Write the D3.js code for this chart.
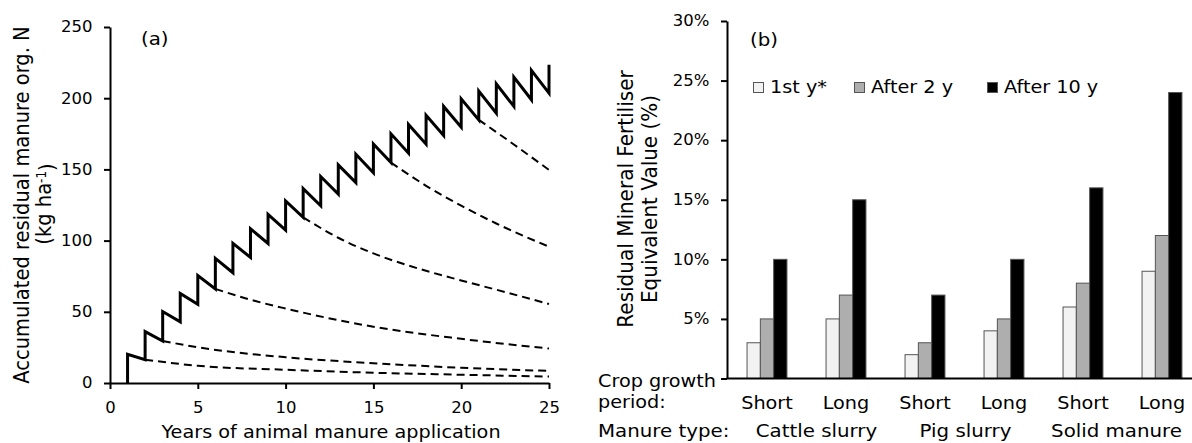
<!DOCTYPE html>
<html>
<head>
<meta charset="utf-8">
<script src="https://cdn.jsdelivr.net/npm/d3@7"></script>
<style>
  body { margin: 0; background: #fff; }
  svg { display: block; font-family: 'DejaVu Sans', Verdana, sans-serif; }
  .axis path, .axis line { stroke: #000; stroke-width: 2; }
</style>
</head>
<body>
<div id="chart"></div>
<script>
// Panel (a): accumulated residual manure N
var years = d3.range(1, 26);
var peaks = [20.2, 36.1, 50.2, 62.9, 75.5, 87.5, 98, 108.3, 118.4, 127.8, 136.5, 145, 153.1,
  160.6, 167.9, 175, 181.5, 188, 194.2, 199.6, 205, 210.1, 214.8, 219.5, 223.5];
var troughs = [16.4, 29.5, 42.9, 55.3, 66.1, 77.4, 88.2, 98, 107.4, 116.3, 124.5, 132.7,
  140.7, 147.7, 154.8, 161.4, 167.7, 173.8, 179.6, 184.8, 189.5, 194.2, 198.9, 203.6];
// decay after stopping application: [year, value]
var decay2 = [[2, 16.4], [5, 12.1], [10, 9.3], [15, 7.2], [20, 5.8], [25, 4.5]];
var decay3 = [[3, 29.5], [5, 25.1], [10, 18.1], [15, 13.9], [20, 10.7], [25, 8.5]];
var decay6 = [[6, 66.1], [8, 58.5], [10, 52.3], [15, 39.5], [20, 31], [25, 24.2]];
var decay11 = [[11, 116.3], [13, 102], [15, 91], [17, 82.5], [20, 72], [22, 65.5], [25, 55.5]];
var decay16 = [[16, 154.8], [18, 138.5], [20, 124.5], [22, 112], [25, 95.7]];
var decay21 = [[21, 184.8], [23, 167.5], [25, 149.6]];
var xTicksA = [0, 5, 10, 15, 20, 25];
var yTicksA = [0, 50, 100, 150, 200, 250];

// Panel (b): residual mineral fertiliser equivalent value
var manureTypes = ['Cattle slurry', 'Pig slurry', 'Solid manure'];
var periods = ['Short', 'Long'];
var seriesNames = ['1st y*', 'After 2 y', 'After 10 y'];
var firstYear = [0.03, 0.05, 0.02, 0.04, 0.06, 0.09];
var after2y = [0.05, 0.07, 0.03, 0.05, 0.08, 0.12];
var after10y = [0.10, 0.15, 0.07, 0.10, 0.16, 0.24];
var yTicksB = [0, 0.05, 0.10, 0.15, 0.20, 0.25, 0.30];

var SX = 1.1; // the reference text is a little wider than DejaVu
var fills = ['#f2f2f2', '#aeaeae', '#000'];

var svg = d3.select('#chart').append('svg').attr('width', 1192).attr('height', 443);

function label(g, x, y, s, size, anchor) {
  return g.append('text')
    .attr('transform', `translate(${x},${y}) scale(${SX},1)`)
    .attr('text-anchor', anchor || 'start')
    .style('font-size', size + 'px')
    .text(s);
}

function vlabel(g, x, y, s, size) {
  return g.append('text')
    .attr('transform', `translate(${x},${y}) scale(${SX},1) rotate(-90)`)
    .attr('text-anchor', 'middle')
    .style('font-size', size + 'px')
    .text(s);
}

// ---------- panel (a) ----------
var xA = d3.scaleLinear().domain([0, 25]).range([110, 549]);
var yA = d3.scaleLinear().domain([0, 250]).range([383, 27]);
var gA = svg.append('g');

gA.append('g').attr('class', 'axis').attr('transform', `translate(0,${yA(0)})`)
  .call(d3.axisBottom(xA).tickValues(xTicksA).tickSize(6).tickSizeOuter(0).tickPadding(13))
  .call((g) => g.selectAll('text').style('font-size', '15px').attr('transform', `scale(${SX},1)`));
gA.append('g').attr('class', 'axis').attr('transform', `translate(${xA(0)},0)`)
  .call(d3.axisLeft(yA).tickValues(yTicksA).tickSize(6).tickSizeOuter(0).tickPadding(10))
  .call((g) => g.selectAll('text').style('font-size', '15px').attr('transform', `scale(${SX},1)`));
gA.selectAll('.axis text').attr('fill', '#000').style('font-family', 'DejaVu Sans');

// sawtooth: jump up at each application, decline until the next one
var saw = [[1, 0]];
years.forEach((yr, i) => {
  saw.push([yr, peaks[i]]);
  if (i < troughs.length) saw.push([yr + 1, troughs[i]]);
});
var lineA = d3.line().x((d) => xA(d[0])).y((d) => yA(d[1]));
var curveA = d3.line().x((d) => xA(d[0])).y((d) => yA(d[1])).curve(d3.curveMonotoneX);

gA.selectAll('path.decay')
  .data([decay2, decay3, decay6, decay11, decay16, decay21])
  .join('path')
  .attr('class', 'decay')
  .attr('d', curveA)
  .attr('fill', 'none')
  .attr('stroke', '#000')
  .attr('stroke-width', 2)
  .attr('stroke-dasharray', '8,5');

gA.append('path')
  .datum(saw)
  .attr('d', lineA)
  .attr('fill', 'none')
  .attr('stroke', '#000')
  .attr('stroke-width', 3)
  .attr('stroke-linejoin', 'miter');

label(gA, 141, 45, '(a)', 18);
label(gA, 331, 438, 'Years of animal manure application', 17.5, 'middle');
vlabel(gA, 29, 205, 'Accumulated residual manure org. N', 19.5);
var t2 = vlabel(gA, 51, 204, '', 19.5);
t2.append('tspan').text('(kg ha');
t2.append('tspan').attr('dy', '-0.4em').style('font-size', '12px').text('-1');
t2.append('tspan').attr('dy', '0.4em').text(')');

// ---------- panel (b) ----------
var groups = [];
manureTypes.forEach((m) => periods.forEach((p) => groups.push(m + '|' + p)));
var values = [firstYear, after2y, after10y];

var xB = d3.scaleBand().domain(groups).range([727.5, 1201.5]);
var xSub = d3.scaleBand().domain(seriesNames).range([0, xB.bandwidth()])
  .paddingInner(0).paddingOuter(1.47);
var yB = d3.scaleLinear().domain([0, 0.30]).range([378.5, 21]);
var gB = svg.append('g');

gB.selectAll('g.series')
  .data(seriesNames)
  .join('g')
  .attr('class', 'series')
  .attr('fill', (d, i) => fills[i])
  .selectAll('rect')
  .data((d, i) => groups.map((gr, j) => ({ group: gr, series: d, value: values[i][j] })))
  .join('rect')
  .attr('x', (d) => xB(d.group) + xSub(d.series))
  .attr('y', (d) => yB(d.value))
  .attr('width', xSub.bandwidth())
  .attr('height', (d) => yB(0) - yB(d.value))
  .attr('stroke', '#555')
  .attr('stroke-width', 1);

gB.append('g').attr('class', 'axis').attr('transform', `translate(${xB.range()[0] - 0.5},0)`)
  .call(d3.axisLeft(yB).tickValues(yTicksB).tickSize(6).tickSizeOuter(0).tickPadding(10)
    .tickFormat((d) => (d === 0 ? '' : d3.format('.0%')(d))))
  .call((g) => g.selectAll('text').style('font-size', '15px').attr('transform', `scale(${SX},1)`));
gB.append('line')
  .attr('x1', xB.range()[0] - 1).attr('x2', xB.range()[1])
  .attr('y1', yB(0)).attr('y2', yB(0))
  .attr('stroke', '#000').attr('stroke-width', 2);
gB.selectAll('.axis text').attr('fill', '#000').style('font-family', 'DejaVu Sans');

// category labels
groups.forEach((gr) => {
  label(gB, xB(gr) + xB.bandwidth() / 2, 409, gr.split('|')[1], 17.5, 'middle');
});
var nudge = [10, 1, -6];
manureTypes.forEach((m, i) => {
  var c = (xB(m + '|Short') + xB(m + '|Long') + xB.bandwidth()) / 2 + nudge[i];
  label(gB, c, 437, m, 18, 'middle');
});
label(gB, 598, 387, 'Crop growth', 17.5);
label(gB, 598, 408, 'period:', 17.5);
label(gB, 598, 437, 'Manure type:', 18);

// legend
var legendX = [753, 854, 987];
seriesNames.forEach((s, i) => {
  gB.append('rect')
    .attr('x', legendX[i] + 0.5).attr('y', 82.5)
    .attr('width', 10).attr('height', 10)
    .attr('fill', fills[i]).attr('stroke', '#555').attr('stroke-width', 1);
  label(gB, legendX[i] + 17, 92.5, s, 17.5);
});

label(gB, 750, 46, '(b)', 18);
vlabel(gB, 633, 199, 'Residual Mineral Fertiliser', 20);
vlabel(gB, 657, 199, 'Equivalent Value (%)', 20);
</script>
</body>
</html>
